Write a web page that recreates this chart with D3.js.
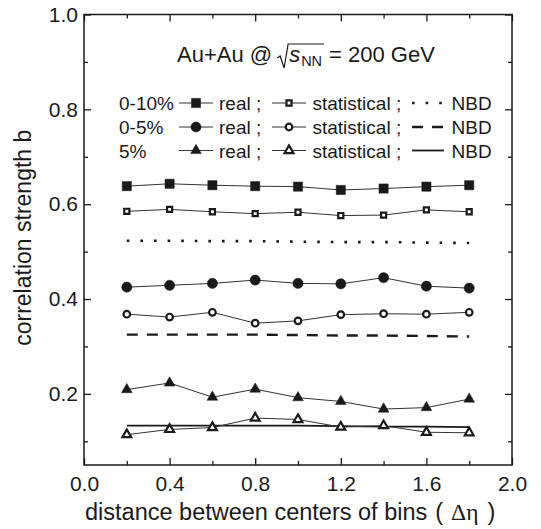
<!DOCTYPE html>
<meta charset="utf-8">
<script src="https://d3js.org/d3.v7.min.js"></script>
<style>
  body { margin: 0; background: #fff; }
  text { font-family: "Liberation Sans", Arial, sans-serif; fill: #1a1a1a; }
</style>
<div id="chart"></div>
<script>

// data
var dEta = [0.2, 0.4, 0.6, 0.8, 1.0, 1.2, 1.4, 1.6, 1.8];

var real010 = [0.638, 0.643, 0.640, 0.638, 0.637, 0.630, 0.633, 0.637, 0.640];
var stat010 = [0.585, 0.589, 0.584, 0.580, 0.583, 0.576, 0.577, 0.588, 0.584];
var nbd010  = [0.523, 0.523, 0.522, 0.522, 0.521, 0.520, 0.520, 0.519, 0.518];

var real05 = [0.425, 0.429, 0.433, 0.440, 0.433, 0.432, 0.445, 0.427, 0.423];
var stat05 = [0.368, 0.362, 0.372, 0.349, 0.354, 0.367, 0.369, 0.368, 0.372];
var nbd05  = [0.325, 0.325, 0.325, 0.325, 0.324, 0.323, 0.323, 0.322, 0.321];

var real5 = [0.209, 0.223, 0.193, 0.210, 0.192, 0.184, 0.168, 0.171, 0.189];
var stat5 = [0.114, 0.125, 0.129, 0.149, 0.146, 0.130, 0.133, 0.119, 0.118];
var nbd5  = [0.133, 0.133, 0.133, 0.133, 0.133, 0.132, 0.131, 0.131, 0.130];

var xMajor = [0.0, 0.4, 0.8, 1.2, 1.6, 2.0];
var xMinor = [0.2, 0.6, 1.0, 1.4, 1.8];
var yMajor = [0.2, 0.4, 0.6, 0.8, 1.0];
var yMinor = [0.1, 0.3, 0.5, 0.7, 0.9];

var centralities = ["0-10%", "0-5%", "5%"];

// size of the page and the plot frame
var W = 541, H = 529;
var pLeft = 84, pRight = 512, pTop = 14.5, pBottom = 465;
var ink = "#1a1a1a";

var svg = d3.select("#chart")
  .append("svg")
    .attr("width", W)
    .attr("height", H);

var x = d3.scaleLinear().domain([0, 2]).range([pLeft, pRight]);
var y = d3.scaleLinear().domain([0.05, 1.0]).range([pBottom, pTop]);

// axes, ticks pointing inwards on all four sides
function fmt(d) { return d3.format(".1f")(d); }

svg.append("g").attr("transform", "translate(0," + pBottom + ")")
  .call(d3.axisBottom(x).tickValues(xMajor).tickFormat(fmt).tickSizeInner(-7).tickSizeOuter(0).tickPadding(11));
svg.append("g").attr("transform", "translate(0," + pBottom + ")")
  .call(d3.axisBottom(x).tickValues(xMinor).tickFormat("").tickSizeInner(-4).tickSizeOuter(0));
svg.append("g").attr("transform", "translate(0," + pTop + ")")
  .call(d3.axisTop(x).tickValues(xMajor).tickFormat("").tickSizeInner(-7).tickSizeOuter(0));
svg.append("g").attr("transform", "translate(0," + pTop + ")")
  .call(d3.axisTop(x).tickValues(xMinor).tickFormat("").tickSizeInner(-4).tickSizeOuter(0));

svg.append("g").attr("transform", "translate(" + pLeft + ",0)")
  .call(d3.axisLeft(y).tickValues(yMajor).tickFormat(fmt).tickSizeInner(-7).tickSizeOuter(0).tickPadding(6));
svg.append("g").attr("transform", "translate(" + pLeft + ",0)")
  .call(d3.axisLeft(y).tickValues(yMinor).tickFormat("").tickSizeInner(-4).tickSizeOuter(0));
svg.append("g").attr("transform", "translate(" + pRight + ",0)")
  .call(d3.axisRight(y).tickValues(yMajor).tickFormat("").tickSizeInner(-7).tickSizeOuter(0));
svg.append("g").attr("transform", "translate(" + pRight + ",0)")
  .call(d3.axisRight(y).tickValues(yMinor).tickFormat("").tickSizeInner(-4).tickSizeOuter(0));

svg.selectAll(".domain").remove();
svg.selectAll(".tick line").attr("stroke", ink).attr("stroke-width", 1.3);
svg.selectAll(".tick text").style("font-size", "21px").attr("fill", ink);

svg.append("rect")
  .attr("x", pLeft).attr("y", pTop)
  .attr("width", pRight - pLeft).attr("height", pBottom - pTop)
  .attr("fill", "none").attr("stroke", ink).attr("stroke-width", 1.5);

// axis titles
var xt = svg.append("text")
  .attr("x", 85).attr("y", 520)
  .style("font-size", "23.5px");
xt.append("tspan").text("distance between centers of bins");
xt.append("tspan").attr("dx", 8).style("font-weight", 300).text("(");
xt.append("tspan").attr("dx", 8).style("font-family", "'Liberation Serif', serif").text("Δη");
xt.append("tspan").attr("dx", 9).style("font-weight", 300).text(")");

svg.append("text")
  .attr("transform", "translate(31," + ((pTop + pBottom) / 2 - 2) + ") rotate(-90)")
  .attr("text-anchor", "middle")
  .style("font-size", "23px")
  .text("correlation strength b");

// series
var line = d3.line().x(function(d) { return x(d[0]); }).y(function(d) { return y(d[1]); });
function pts(vals) { return dEta.map(function(d, i) { return [d, vals[i]]; }); }

var series = [
  { vals: real010, sym: d3.symbolSquare,   size: 85, open: false },
  { vals: stat010, sym: d3.symbolSquare,   size: 26, open: true },
  { vals: real05,  sym: d3.symbolCircle,   size: 82, open: false },
  { vals: stat05,  sym: d3.symbolCircle,   size: 34, open: true },
  { vals: real5,   sym: d3.symbolTriangle, size: 50, open: false },
  { vals: stat5,   sym: d3.symbolTriangle, size: 34, open: true }
];

var nbd = [
  { vals: nbd010, dash: "2.6,11", width: 2.6 },
  { vals: nbd05,  dash: "11,9",   width: 2.4 },
  { vals: nbd5,   dash: null,     width: 1.8 }
];

nbd.forEach(function(s) {
  svg.append("path")
    .datum(pts(s.vals))
    .attr("d", line)
    .attr("fill", "none")
    .attr("stroke", ink)
    .attr("stroke-width", s.width)
    .attr("stroke-dasharray", s.dash);
});

series.forEach(function(s) {
  svg.append("path")
    .datum(pts(s.vals))
    .attr("d", line)
    .attr("fill", "none")
    .attr("stroke", "#333")
    .attr("stroke-width", 1);
  svg.append("g").selectAll("path")
    .data(pts(s.vals))
    .join("path")
      .attr("transform", function(d) { return "translate(" + x(d[0]) + "," + y(d[1]) + ")"; })
      .attr("d", d3.symbol().type(s.sym).size(s.size))
      .attr("fill", s.open ? "#fff" : ink)
      .attr("stroke", ink)
      .attr("stroke-width", s.open ? 2.2 : 0.5);
});

// title with sqrt(s_NN)
var title = svg.append("g").attr("transform", "translate(177,62)").style("font-size", "22px");
var t1 = title.append("text").text("Au+Au @");
var w1 = t1.node().getComputedTextLength();
var rx = w1 + 5;
var sT = title.append("text").attr("x", rx + 12).style("font-style", "italic").text("s");
var ws = sT.node().getComputedTextLength();
var nT = title.append("text").attr("x", rx + 12 + ws + 1).attr("y", 4).style("font-size", "14.5px").text("NN");
var wn = nT.node().getComputedTextLength();
var barEnd = rx + 12 + ws + 1 + wn + 2;
title.append("path")
  .attr("d", "M" + rx + ",-4 L" + (rx + 3) + ",-6 L" + (rx + 7) + ",6 L" + (rx + 11) + ",-18 L" + barEnd + ",-18")
  .attr("fill", "none").attr("stroke", ink).attr("stroke-width", 1.2);
title.append("text").attr("x", barEnd + 5).text("= 200 GeV");

// legend
var legRows = [103, 127, 150.5];
var legFont = "19px";
centralities.forEach(function(c, i) {
  var yy = legRows[i];
  var g = svg.append("g");
  g.append("text").attr("x", 119).attr("y", yy + 7).style("font-size", legFont).text(c);
  // real
  g.append("line").attr("x1", 179).attr("x2", 213).attr("y1", yy).attr("y2", yy).attr("stroke", "#333");
  g.append("path").attr("transform", "translate(196," + yy + ")")
    .attr("d", d3.symbol().type(series[2 * i].sym).size(series[2 * i].size))
    .attr("fill", ink).attr("stroke", ink).attr("stroke-width", 0.5);
  g.append("text").attr("x", 219).attr("y", yy + 7).style("font-size", legFont).text("real ;");
  // statistical
  g.append("line").attr("x1", 272).attr("x2", 306).attr("y1", yy).attr("y2", yy).attr("stroke", "#333");
  g.append("path").attr("transform", "translate(289," + yy + ")")
    .attr("d", d3.symbol().type(series[2 * i + 1].sym).size(series[2 * i + 1].size))
    .attr("fill", "#fff").attr("stroke", ink).attr("stroke-width", 2.2);
  g.append("text").attr("x", 312.5).attr("y", yy + 7).style("font-size", legFont).text("statistical ;");
  // NBD
  g.append("line").attr("x1", 412).attr("x2", 444).attr("y1", yy).attr("y2", yy)
    .attr("stroke", ink).attr("stroke-width", nbd[i].width)
    .attr("stroke-dasharray", nbd[i].dash);
  g.append("text").attr("x", 451.5).attr("y", yy + 7).style("font-size", legFont).text("NBD");
});

</script>
